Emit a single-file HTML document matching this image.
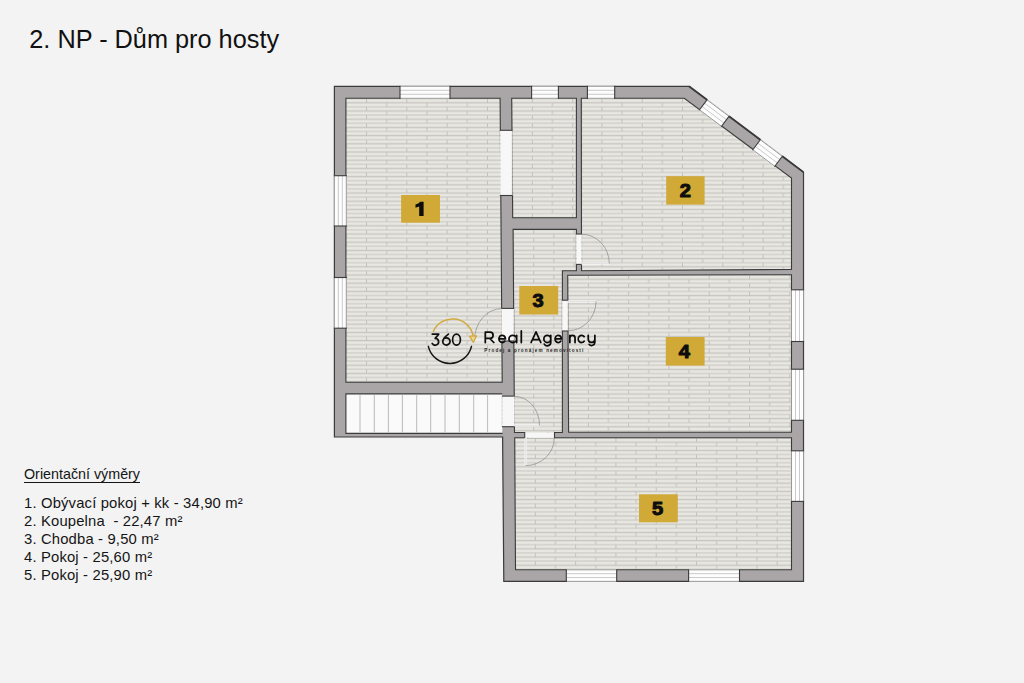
<!DOCTYPE html>
<html><head><meta charset="utf-8"><title>2. NP</title>
<style>
html,body{margin:0;padding:0;background:#f3f3f3;}
body{width:1024px;height:683px;position:relative;overflow:hidden;font-family:"Liberation Sans",sans-serif;color:#111;}
svg{position:absolute;left:0;top:0;}
.title{position:absolute;left:29.3px;top:24.1px;font-size:25.3px;line-height:30px;white-space:nowrap;}
.lg{position:absolute;left:24px;font-size:14.8px;line-height:18px;white-space:nowrap;color:#151515;letter-spacing:0.17px;}
.lg.u{font-size:14.3px;letter-spacing:0;text-decoration:underline;text-decoration-thickness:1px;text-underline-offset:2.6px;}
</style></head><body>
<svg width="1024" height="683" viewBox="0 0 1024 683">
<defs>
<linearGradient id="strip" x1="0" y1="0" x2="0" y2="1">
<stop offset="0" stop-color="#d3d2cc"/><stop offset="0.16" stop-color="#d6d5cf"/><stop offset="0.34" stop-color="#e8e7e2"/><stop offset="0.7" stop-color="#e8e7e2"/><stop offset="0.88" stop-color="#d6d5cf"/><stop offset="1" stop-color="#d3d2cc"/>
</linearGradient>
<g id="tile">
<rect x="0" y="0" width="40.3" height="4.1" fill="url(#strip)"/>
<rect x="0" y="4.1" width="40.3" height="4.1" fill="url(#strip)"/>
<rect x="0" y="0.3" width="0.9" height="3.6" fill="#bfbdb7"/>
<rect x="20.15" y="4.4" width="0.9" height="3.6" fill="#bfbdb7"/>
</g>
<pattern id="floor" x="366" y="98.65" width="40.3" height="8.2" patternUnits="userSpaceOnUse"><use href="#tile"/></pattern>
<pattern id="fl_r1" x="366.05" y="98.65" width="40.3" height="8.2" patternUnits="userSpaceOnUse"><use href="#tile"/></pattern>
<pattern id="fl_rs" x="531.85" y="98.65" width="40.3" height="8.2" patternUnits="userSpaceOnUse"><use href="#tile"/></pattern>
<pattern id="fl_r2" x="601.45" y="98.65" width="40.3" height="8.2" patternUnits="userSpaceOnUse"><use href="#tile"/></pattern>
<pattern id="fl_r3" x="533.25" y="229.75" width="40.3" height="8.2" patternUnits="userSpaceOnUse"><use href="#tile"/></pattern>
<pattern id="fl_r4" x="587.85" y="275.05" width="40.3" height="8.2" patternUnits="userSpaceOnUse"><use href="#tile"/></pattern>
<pattern id="fl_r5" x="534.85" y="438.05" width="40.3" height="8.2" patternUnits="userSpaceOnUse"><use href="#tile"/></pattern>
</defs>
<polygon points="334.4,86.3 689,86.3 803.5,172.2 803.5,581.4 503.8,581.4 502.6,437 334.4,437" fill="#aaa6a7" stroke="#3b3b3b" stroke-width="1.2" stroke-linejoin="miter"/>
<polygon points="345.9,98.3 500.1,98.3 502.2,382.3 345.9,382.3" fill="url(#fl_r1)" stroke="#3b3b3b" stroke-width="1.1"/>
<polygon points="511.7,98.3 576.4,98.3 576.4,217.8 512.7,217.8" fill="url(#fl_rs)" stroke="#3b3b3b" stroke-width="1.1"/>
<polygon points="581.3,98.3 684.3,98.3 791.5,178 791.5,269.5 581.5,270.7" fill="url(#fl_r2)" stroke="#3b3b3b" stroke-width="1.1"/>
<polygon points="513.1,229.4 576.4,229.4 576.4,270.8 562.4,270.8 562.4,432.5 514.5,432.5" fill="url(#fl_r3)" stroke="#3b3b3b" stroke-width="1.1"/>
<polygon points="567.7,275.3 791.5,274.7 791.5,432.3 568.6,432.3" fill="url(#fl_r4)" stroke="#3b3b3b" stroke-width="1.1"/>
<polygon points="514.7,437.7 791.5,437.8 791.5,569.8 515.5,569.8" fill="url(#fl_r5)" stroke="#3b3b3b" stroke-width="1.1"/>
<rect x="345.9" y="393.9" width="156.4" height="39.5" fill="#fafafa"/>
<path d="M502.3,393.9 L345.9,393.9 L345.9,433.4 L502.6,433.4" fill="none" stroke="#3b3b3b" stroke-width="1.1"/>
<line x1="502.3" y1="396" x2="502.3" y2="426.5" stroke="#b5b5b5" stroke-width="0.8"/>
<line x1="360" y1="394.5" x2="360" y2="432.5" stroke="#a9a9a9" stroke-width="0.8"/>
<line x1="374.3" y1="394.5" x2="374.3" y2="432.5" stroke="#a9a9a9" stroke-width="0.8"/>
<line x1="388.4" y1="394.5" x2="388.4" y2="432.5" stroke="#a9a9a9" stroke-width="0.8"/>
<line x1="402.4" y1="394.5" x2="402.4" y2="432.5" stroke="#a9a9a9" stroke-width="0.8"/>
<line x1="416.7" y1="394.5" x2="416.7" y2="432.5" stroke="#a9a9a9" stroke-width="0.8"/>
<line x1="430.7" y1="394.5" x2="430.7" y2="432.5" stroke="#a9a9a9" stroke-width="0.8"/>
<line x1="445" y1="394.5" x2="445" y2="432.5" stroke="#a9a9a9" stroke-width="0.8"/>
<line x1="459.3" y1="394.5" x2="459.3" y2="432.5" stroke="#a9a9a9" stroke-width="0.8"/>
<line x1="473.7" y1="394.5" x2="473.7" y2="432.5" stroke="#a9a9a9" stroke-width="0.8"/>
<line x1="487.6" y1="394.5" x2="487.6" y2="432.5" stroke="#a9a9a9" stroke-width="0.8"/>
<rect x="499.7" y="130.3" width="12.9" height="65.2" fill="url(#floor)"/>
<rect x="500.6" y="130.3" width="11.1" height="65.2" fill="#f7f7f7"/>
<line x1="499.8" y1="130.3" x2="512.5" y2="130.3" stroke="#3b3b3b" stroke-width="1.1"/>
<line x1="499.8" y1="195.5" x2="512.5" y2="195.5" stroke="#3b3b3b" stroke-width="1.1"/>
<rect x="501.09999999999997" y="308.4" width="13.0" height="32.6" fill="url(#floor)"/>
<rect x="502.0" y="308.4" width="11.2" height="32.6" fill="#f7f7f7"/>
<line x1="501.2" y1="308.4" x2="514.0" y2="308.4" stroke="#3b3b3b" stroke-width="1.1"/>
<line x1="501.2" y1="341" x2="514.0" y2="341" stroke="#3b3b3b" stroke-width="1.1"/>
<rect x="501.79999999999995" y="396.1" width="13.1" height="30.6" fill="url(#floor)"/>
<rect x="502.7" y="396.1" width="11.3" height="30.6" fill="#f7f7f7"/>
<line x1="501.9" y1="396.1" x2="514.8" y2="396.1" stroke="#3b3b3b" stroke-width="1.1"/>
<line x1="501.9" y1="426.7" x2="514.8" y2="426.7" stroke="#3b3b3b" stroke-width="1.1"/>
<rect x="575.8" y="234" width="6.2" height="30.4" fill="url(#floor)"/>
<rect x="576.6999999999999" y="234" width="4.4" height="30.4" fill="#f7f7f7"/>
<line x1="575.9" y1="234" x2="581.9" y2="234" stroke="#3b3b3b" stroke-width="1.1"/>
<line x1="575.9" y1="264.4" x2="581.9" y2="264.4" stroke="#3b3b3b" stroke-width="1.1"/>
<rect x="561.8" y="300.2" width="6.6" height="30.8" fill="url(#floor)"/>
<rect x="562.6999999999999" y="300.2" width="4.8" height="30.8" fill="#f7f7f7"/>
<line x1="561.9" y1="300.2" x2="568.3" y2="300.2" stroke="#3b3b3b" stroke-width="1.1"/>
<line x1="561.9" y1="331" x2="568.3" y2="331" stroke="#3b3b3b" stroke-width="1.1"/>
<rect x="524.7" y="431.9" width="29.8" height="6.5" fill="url(#floor)"/>
<rect x="524.7" y="432.8" width="29.8" height="4.7" fill="#f7f7f7"/>
<line x1="524.7" y1="432.0" x2="524.7" y2="438.3" stroke="#3b3b3b" stroke-width="1.1"/>
<line x1="554.5" y1="432.0" x2="554.5" y2="438.3" stroke="#3b3b3b" stroke-width="1.1"/>
<path d="M501.7,340.2 L474.5,340.2" stroke="#fcfcfc" stroke-width="2" fill="none"/><path d="M501.7,340.2 L474.5,340.2" stroke="#8f8f8f" stroke-width="0.4" fill="none" opacity="0.6"/><path d="M474.5,340.2 A27.2,31.6 0 0 1 501.7,308.6" stroke="#8f8f8f" stroke-width="0.75" fill="none"/>
<path d="M514.3,425.4 L539.5,425.4" stroke="#fcfcfc" stroke-width="2" fill="none"/><path d="M514.3,425.4 L539.5,425.4" stroke="#8f8f8f" stroke-width="0.4" fill="none" opacity="0.6"/><path d="M539.5,425.4 A25.2,29.1 0 0 0 514.3,396.3" stroke="#8f8f8f" stroke-width="0.75" fill="none"/>
<path d="M525.6,437.8 L525.6,465.6" stroke="#fcfcfc" stroke-width="2" fill="none"/><path d="M525.6,437.8 L525.6,465.6" stroke="#8f8f8f" stroke-width="0.4" fill="none" opacity="0.6"/><path d="M525.6,465.6 A28.7,27.8 0 0 0 554.3,437.8" stroke="#8f8f8f" stroke-width="0.75" fill="none"/>
<path d="M581.5,263.5 L609.3,263.5" stroke="#fcfcfc" stroke-width="2" fill="none"/><path d="M581.5,263.5 L609.3,263.5" stroke="#8f8f8f" stroke-width="0.4" fill="none" opacity="0.6"/><path d="M609.3,263.5 A27.8,29.3 0 0 0 581.5,234.2" stroke="#8f8f8f" stroke-width="0.75" fill="none"/>
<path d="M567.9,301.5 L596,301.5" stroke="#fcfcfc" stroke-width="2" fill="none"/><path d="M567.9,301.5 L596,301.5" stroke="#8f8f8f" stroke-width="0.4" fill="none" opacity="0.6"/><path d="M596,301.5 A28.1,29.3 0 0 1 567.9,330.8" stroke="#8f8f8f" stroke-width="0.75" fill="none"/>
<rect x="400" y="85.6" width="50" height="13.4" fill="#fdfdfd"/><line x1="400" y1="86.3" x2="450" y2="86.3" stroke="#8c8c8c" stroke-width="0.9"/><line x1="400" y1="90.3" x2="450" y2="90.3" stroke="#c4c4c4" stroke-width="0.9"/><line x1="400" y1="94.3" x2="450" y2="94.3" stroke="#c4c4c4" stroke-width="0.9"/><line x1="400" y1="98.3" x2="450" y2="98.3" stroke="#8c8c8c" stroke-width="0.9"/><line x1="400" y1="85.7" x2="400" y2="98.89999999999999" stroke="#3b3b3b" stroke-width="1.1"/><line x1="450" y1="85.7" x2="450" y2="98.89999999999999" stroke="#3b3b3b" stroke-width="1.1"/>
<rect x="531.6" y="85.6" width="26.8" height="13.4" fill="#fdfdfd"/><line x1="531.6" y1="86.3" x2="558.4" y2="86.3" stroke="#8c8c8c" stroke-width="0.9"/><line x1="531.6" y1="90.3" x2="558.4" y2="90.3" stroke="#c4c4c4" stroke-width="0.9"/><line x1="531.6" y1="94.3" x2="558.4" y2="94.3" stroke="#c4c4c4" stroke-width="0.9"/><line x1="531.6" y1="98.3" x2="558.4" y2="98.3" stroke="#8c8c8c" stroke-width="0.9"/><line x1="531.6" y1="85.7" x2="531.6" y2="98.89999999999999" stroke="#3b3b3b" stroke-width="1.1"/><line x1="558.4" y1="85.7" x2="558.4" y2="98.89999999999999" stroke="#3b3b3b" stroke-width="1.1"/>
<rect x="587.4" y="85.6" width="27.3" height="13.4" fill="#fdfdfd"/><line x1="587.4" y1="86.3" x2="614.7" y2="86.3" stroke="#8c8c8c" stroke-width="0.9"/><line x1="587.4" y1="90.3" x2="614.7" y2="90.3" stroke="#c4c4c4" stroke-width="0.9"/><line x1="587.4" y1="94.3" x2="614.7" y2="94.3" stroke="#c4c4c4" stroke-width="0.9"/><line x1="587.4" y1="98.3" x2="614.7" y2="98.3" stroke="#8c8c8c" stroke-width="0.9"/><line x1="587.4" y1="85.7" x2="587.4" y2="98.89999999999999" stroke="#3b3b3b" stroke-width="1.1"/><line x1="614.7" y1="85.7" x2="614.7" y2="98.89999999999999" stroke="#3b3b3b" stroke-width="1.1"/>
<rect x="566.3" y="569.0999999999999" width="50.4" height="13.0" fill="#fdfdfd"/><line x1="566.3" y1="569.8" x2="616.7" y2="569.8" stroke="#8c8c8c" stroke-width="0.9"/><line x1="566.3" y1="573.67" x2="616.7" y2="573.67" stroke="#c4c4c4" stroke-width="0.9"/><line x1="566.3" y1="577.53" x2="616.7" y2="577.53" stroke="#c4c4c4" stroke-width="0.9"/><line x1="566.3" y1="581.4" x2="616.7" y2="581.4" stroke="#8c8c8c" stroke-width="0.9"/><line x1="566.3" y1="569.1999999999999" x2="566.3" y2="582.0" stroke="#3b3b3b" stroke-width="1.1"/><line x1="616.7" y1="569.1999999999999" x2="616.7" y2="582.0" stroke="#3b3b3b" stroke-width="1.1"/>
<rect x="688.6" y="569.0999999999999" width="50.9" height="13.0" fill="#fdfdfd"/><line x1="688.6" y1="569.8" x2="739.5" y2="569.8" stroke="#8c8c8c" stroke-width="0.9"/><line x1="688.6" y1="573.67" x2="739.5" y2="573.67" stroke="#c4c4c4" stroke-width="0.9"/><line x1="688.6" y1="577.53" x2="739.5" y2="577.53" stroke="#c4c4c4" stroke-width="0.9"/><line x1="688.6" y1="581.4" x2="739.5" y2="581.4" stroke="#8c8c8c" stroke-width="0.9"/><line x1="688.6" y1="569.1999999999999" x2="688.6" y2="582.0" stroke="#3b3b3b" stroke-width="1.1"/><line x1="739.5" y1="569.1999999999999" x2="739.5" y2="582.0" stroke="#3b3b3b" stroke-width="1.1"/>
<rect x="333.7" y="175.7" width="13.3" height="50.3" fill="#fdfdfd"/><line x1="334.4" y1="175.7" x2="334.4" y2="226" stroke="#8c8c8c" stroke-width="0.9"/><line x1="338.37" y1="175.7" x2="338.37" y2="226" stroke="#c4c4c4" stroke-width="0.9"/><line x1="342.33" y1="175.7" x2="342.33" y2="226" stroke="#c4c4c4" stroke-width="0.9"/><line x1="346.3" y1="175.7" x2="346.3" y2="226" stroke="#8c8c8c" stroke-width="0.9"/><line x1="333.79999999999995" y1="175.7" x2="346.90000000000003" y2="175.7" stroke="#3b3b3b" stroke-width="1.1"/><line x1="333.79999999999995" y1="226" x2="346.90000000000003" y2="226" stroke="#3b3b3b" stroke-width="1.1"/>
<rect x="333.7" y="277.5" width="13.3" height="50.7" fill="#fdfdfd"/><line x1="334.4" y1="277.5" x2="334.4" y2="328.2" stroke="#8c8c8c" stroke-width="0.9"/><line x1="338.37" y1="277.5" x2="338.37" y2="328.2" stroke="#c4c4c4" stroke-width="0.9"/><line x1="342.33" y1="277.5" x2="342.33" y2="328.2" stroke="#c4c4c4" stroke-width="0.9"/><line x1="346.3" y1="277.5" x2="346.3" y2="328.2" stroke="#8c8c8c" stroke-width="0.9"/><line x1="333.79999999999995" y1="277.5" x2="346.90000000000003" y2="277.5" stroke="#3b3b3b" stroke-width="1.1"/><line x1="333.79999999999995" y1="328.2" x2="346.90000000000003" y2="328.2" stroke="#3b3b3b" stroke-width="1.1"/>
<rect x="790.8" y="289.8" width="13.4" height="51.7" fill="#fdfdfd"/><line x1="791.5" y1="289.8" x2="791.5" y2="341.5" stroke="#8c8c8c" stroke-width="0.9"/><line x1="795.5" y1="289.8" x2="795.5" y2="341.5" stroke="#c4c4c4" stroke-width="0.9"/><line x1="799.5" y1="289.8" x2="799.5" y2="341.5" stroke="#c4c4c4" stroke-width="0.9"/><line x1="803.5" y1="289.8" x2="803.5" y2="341.5" stroke="#8c8c8c" stroke-width="0.9"/><line x1="790.9" y1="289.8" x2="804.1" y2="289.8" stroke="#3b3b3b" stroke-width="1.1"/><line x1="790.9" y1="341.5" x2="804.1" y2="341.5" stroke="#3b3b3b" stroke-width="1.1"/>
<rect x="790.8" y="369.2" width="13.4" height="51.1" fill="#fdfdfd"/><line x1="791.5" y1="369.2" x2="791.5" y2="420.3" stroke="#8c8c8c" stroke-width="0.9"/><line x1="795.5" y1="369.2" x2="795.5" y2="420.3" stroke="#c4c4c4" stroke-width="0.9"/><line x1="799.5" y1="369.2" x2="799.5" y2="420.3" stroke="#c4c4c4" stroke-width="0.9"/><line x1="803.5" y1="369.2" x2="803.5" y2="420.3" stroke="#8c8c8c" stroke-width="0.9"/><line x1="790.9" y1="369.2" x2="804.1" y2="369.2" stroke="#3b3b3b" stroke-width="1.1"/><line x1="790.9" y1="420.3" x2="804.1" y2="420.3" stroke="#3b3b3b" stroke-width="1.1"/>
<rect x="790.8" y="450.8" width="13.4" height="50.6" fill="#fdfdfd"/><line x1="791.5" y1="450.8" x2="791.5" y2="501.4" stroke="#8c8c8c" stroke-width="0.9"/><line x1="795.5" y1="450.8" x2="795.5" y2="501.4" stroke="#c4c4c4" stroke-width="0.9"/><line x1="799.5" y1="450.8" x2="799.5" y2="501.4" stroke="#c4c4c4" stroke-width="0.9"/><line x1="803.5" y1="450.8" x2="803.5" y2="501.4" stroke="#8c8c8c" stroke-width="0.9"/><line x1="790.9" y1="450.8" x2="804.1" y2="450.8" stroke="#3b3b3b" stroke-width="1.1"/><line x1="790.9" y1="501.4" x2="804.1" y2="501.4" stroke="#3b3b3b" stroke-width="1.1"/>
<line x1="689" y1="86.3" x2="707" y2="99.8" stroke="#3b3b3b" stroke-width="1.7"/>
<line x1="729" y1="116.3" x2="760.3" y2="139.77" stroke="#3b3b3b" stroke-width="1.7"/>
<line x1="782.3" y1="156.27" x2="803.5" y2="172.18" stroke="#3b3b3b" stroke-width="1.7"/>
<polygon points="707.42,99.24 729.42,115.74 721.08,126.86 699.08,110.36" fill="#fdfdfd"/><line x1="707.0" y1="99.8" x2="729.0" y2="116.3" stroke="#8c8c8c" stroke-width="0.9"/><line x1="704.5" y1="103.13" x2="726.5" y2="119.63" stroke="#c4c4c4" stroke-width="0.9"/><line x1="702.0" y1="106.47" x2="724.0" y2="122.97" stroke="#c4c4c4" stroke-width="0.9"/><line x1="699.5" y1="109.8" x2="721.5" y2="126.3" stroke="#8c8c8c" stroke-width="0.9"/><line x1="707.36" y1="99.32" x2="699.14" y2="110.28" stroke="#3b3b3b" stroke-width="1.1"/><line x1="729.36" y1="115.82" x2="721.14" y2="126.78" stroke="#3b3b3b" stroke-width="1.1"/>
<polygon points="760.72,139.21 782.72,155.71 774.38,166.83 752.38,150.33" fill="#fdfdfd"/><line x1="760.3" y1="139.77" x2="782.3" y2="156.27" stroke="#8c8c8c" stroke-width="0.9"/><line x1="757.8" y1="143.11" x2="779.8" y2="159.61" stroke="#c4c4c4" stroke-width="0.9"/><line x1="755.3" y1="146.44" x2="777.3" y2="162.94" stroke="#c4c4c4" stroke-width="0.9"/><line x1="752.8" y1="149.77" x2="774.8" y2="166.27" stroke="#8c8c8c" stroke-width="0.9"/><line x1="760.66" y1="139.29" x2="752.44" y2="150.25" stroke="#3b3b3b" stroke-width="1.1"/><line x1="782.66" y1="155.79" x2="774.44" y2="166.75" stroke="#3b3b3b" stroke-width="1.1"/>
<rect x="401.1" y="195" width="38.9" height="27.7" fill="#d0a936"/>
<polygon points="423.6,201.7 423.6,215.9 419.2,215.9 419.2,206.4 415.5,207.7 415.5,204.6 418.2,203.6 420.3,201.7" fill="#0d0d0d"/>
<rect x="666.2" y="176.2" width="38.4" height="28.4" fill="#d0a936"/>
<text transform="translate(685.4,196.8) scale(1.08,1)" x="0" y="0" text-anchor="middle" font-family="Liberation Sans" font-weight="bold" font-size="18.6" fill="#0d0d0d" stroke="#0d0d0d" stroke-width="1.0" stroke-linejoin="round">2</text>
<rect x="519.3" y="286" width="38.9" height="28.5" fill="#d0a936"/>
<text transform="translate(538.15,306.65) scale(1.08,1)" x="0" y="0" text-anchor="middle" font-family="Liberation Sans" font-weight="bold" font-size="18.6" fill="#0d0d0d" stroke="#0d0d0d" stroke-width="1.0" stroke-linejoin="round">3</text>
<rect x="665.8" y="337" width="38.8" height="28.6" fill="#d0a936"/>
<text transform="translate(684.3,357.7) scale(1.08,1)" x="0" y="0" text-anchor="middle" font-family="Liberation Sans" font-weight="bold" font-size="18.6" fill="#0d0d0d" stroke="#0d0d0d" stroke-width="1.0" stroke-linejoin="round">4</text>
<rect x="639" y="494.3" width="38.8" height="28.0" fill="#d0a936"/>
<text transform="translate(657.5,514.7) scale(1.08,1)" x="0" y="0" text-anchor="middle" font-family="Liberation Sans" font-weight="bold" font-size="18.6" fill="#0d0d0d" stroke="#0d0d0d" stroke-width="1.0" stroke-linejoin="round">5</text>
<g id="logo">
<path d="M433.37,331.36 A21.0,21.0 0 0 1 473.09,335.53" stroke="#d2a93c" stroke-width="1.5" fill="none" stroke-linecap="round"/>
<path d="M469.5,336.2 L476.5,335.8 L473.4,342.3 Z" stroke="#d2a93c" stroke-width="1.3" fill="#ead9a0" stroke-linejoin="round"/>
<path d="M471.49,346.38 A22.2,22.2 0 0 1 428.31,346.38" stroke="#161616" stroke-width="1.5" fill="none" stroke-linecap="round"/>
<path d="M432.3,334.2 L438.7,334.2 L435.2,338.4 A3.4,3.4 0 1 1 432.2,343.4 M448.4,334.1 Q443.3,337.6 442.75,341.4 A3.65,3.65 0 1 0 450.05,341.4 A3.65,3.65 0 1 0 442.75,341.4 M452.6,339.7 A3.9,5.5 0 1 0 460.4,339.7 A3.9,5.5 0 1 0 452.6,339.7" fill="none" stroke="#111" stroke-width="1.75" stroke-linecap="round" stroke-linejoin="round"/>
<path d="M485.3,342.5 L485.3,332.2 L490,332.2 A3.1,3.1 0 0 1 490,338.4 L485.3,338.4 M489.7,338.4 L493.8,342.5 M498.95,338.9 L505.45,338.9 A3.25,3.6 0 1 0 504.7,341.2 M516.65,338.9 A3.85,3.6 0 1 0 508.95,338.9 A3.85,3.6 0 1 0 516.65,338.9 M516.65,335.3 L516.65,342.5 M521.3,330.9 L521.3,342.5 M531.1,342.5 L536,331.9 L540.8,342.5 M532.6,339.6 L539.4,339.6 M550.75,338.9 A3.45,3.6 0 1 0 543.85,338.9 A3.45,3.6 0 1 0 550.75,338.9 M550.75,335.3 L550.75,342.4 A3.45,3.35 0 0 1 544.3,344.1 M555.1,338.9 L561.4,338.9 A3.15,3.6 0 1 0 560.7,341.2 M569.85,342.5 L569.85,335.3 M569.85,337.9 A2.6,2.6 0 0 1 575.05,337.9 L575.05,342.5 M584.1,336.6 A3.3,3.6 0 1 0 584.1,341.2 M588.25,335.3 L588.25,339.2 A3.3,3.3 0 0 0 594.85,339.2 M594.85,335.3 L594.85,342.5 A3.3,3.25 0 0 1 589.2,344.5 " fill="none" stroke="#0c0c0c" stroke-width="1.75" stroke-linecap="round" stroke-linejoin="round"/>
<text x="484.3" y="351.9" font-family="Liberation Sans" font-weight="bold" font-size="4.6" fill="#222" textLength="99" lengthAdjust="spacing">Prodej a pronájem nemovitostí</text>
</g>
</svg>
<div class="title">2. NP - Dům pro hosty</div>
<div class="lg u" style="top:464.5px">Orientační výměry</div>
<div class="lg" style="top:494.2px">1. Obývací pokoj + kk - 34,90 m²</div>
<div class="lg" style="top:512.15px">2. Koupelna &nbsp;- 22,47 m²</div>
<div class="lg" style="top:530.1px">3. Chodba - 9,50 m²</div>
<div class="lg" style="top:548.05px">4. Pokoj - 25,60 m²</div>
<div class="lg" style="top:566px">5. Pokoj - 25,90 m²</div>
</body></html>
